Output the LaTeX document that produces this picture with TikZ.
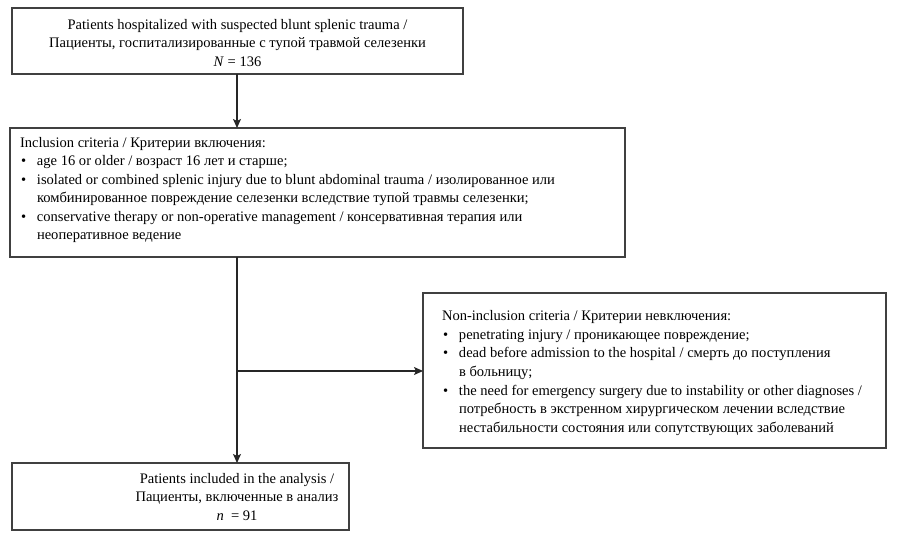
\documentclass[tikz,border=0pt]{standalone}
\usepackage{fontspec}
\setmainfont{Liberation Serif}
\usetikzlibrary{arrows.meta}
\newcommand\bul{\makebox[17bp][l]{\hspace{1bp}\textbullet}}
\newcommand\ind{\hspace*{17bp}}
\begin{document}
\begin{tikzpicture}[x=1bp,y=-1bp,
  box/.style={draw=black!75,line width=1.3bp,inner sep=0,outer sep=0,rectangle},
  txt/.style={inner sep=0,outer sep=0,font=\fontsize{14.6}{18.6}\selectfont},
  conn/.style={draw=black!85,line width=1.1bp,-{Stealth[length=9bp,width=8bp,inset=2bp]}}]
\useasboundingbox (0,0) rectangle (900,539);
% boxes
\node[box,minimum width=451bp,minimum height=66bp] (b1) at (237.5,41) {};
\node[box,minimum width=615bp,minimum height=129bp] (b2) at (317.5,192.5) {};
\node[box,minimum width=463bp,minimum height=155bp] (b3) at (654.5,370.5) {};
\node[box,minimum width=337bp,minimum height=67bp] (b4) at (180.5,496.5) {};
% texts
\node[txt,align=center] (t1) at (237.5,43) {Patients hospitalized with suspected blunt splenic trauma /\\
Пациенты, госпитализированные с тупой травмой селезенки\\
\textit{N} = 136};
\node[txt,align=left,anchor=west] (t2) at (20,190) {Inclusion criteria / Критерии включения:\\
\bul age 16 or older / возраст 16 лет и старше;\\
\bul isolated or combined splenic injury due to blunt abdominal trauma / изолированное или\\
\ind комбинированное повреждение селезенки вследствие тупой травмы селезенки;\\
\bul conservative therapy or non-operative management / консервативная терапия или\\
\ind неоперативное ведение};
\node[txt,align=left,anchor=west] (t3) at (442,373) {Non-inclusion criteria / Критерии невключения:\\
\bul penetrating injury / проникающее повреждение;\\
\bul dead before admission to the hospital / смерть до поступления\\
\ind в больницу;\\
\bul the need for emergency surgery due to instability or other diagnoses /\\
\ind потребность в экстренном хирургическом лечении вследствие\\
\ind нестабильности состояния или сопутствующих заболеваний};
\node[txt,align=center] (t4) at (237,497) {Patients included in the analysis /\\
Пациенты, включенные в анализ\\
\textit{n}\ \ = 91};
% connectors
\coordinate (j) at (237,371);
\draw[conn] (b1.south -| 237,0) -- (b2.north -| 237,0);
\draw[conn] (b2.south -| 237,0) -- (b4.north -| 237,0);
\draw[conn] (j) -- (j -| b3.west);
\end{tikzpicture}
\end{document}
